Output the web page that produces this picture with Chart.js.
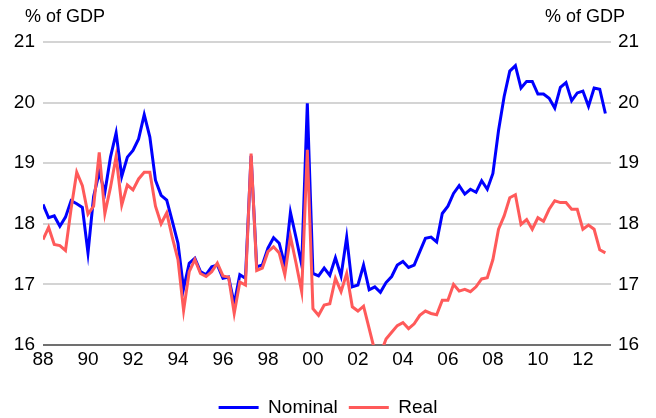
<!DOCTYPE html>
<html lang="en">
<head>
    <meta charset="UTF-8">
    <title>Nominal and real, % of GDP</title>
    <style>
        body { margin: 0; background: #fff; }
        #wrap { position: relative; width: 656px; height: 418px; }
        .unit { position: absolute; top: 6px; font: 18px "Liberation Sans", Arial, sans-serif; line-height: 20px; color: #000; }
        #unitLeft { left: 25px; }
        #unitRight { left: 545px; }
    </style>
</head>
<body>
<div id="wrap">
    <canvas id="chart" width="656" height="418"></canvas>
    <div class="unit" id="unitLeft">% of GDP</div>
    <div class="unit" id="unitRight">% of GDP</div>
</div>

<script src="https://cdn.jsdelivr.net/npm/chart.js@4/dist/chart.umd.min.js"></script>
<script>
    // quarterly, 1988Q1 .. 2013Q1
    var firstYear = 1988;
    var nQuarters = 101;

    var nominal = [
        18.32, 18.10, 18.13, 17.96, 18.11, 18.38, 18.33, 18.27, 17.52, 18.45,
        18.85, 18.52, 19.10, 19.50, 18.78, 19.10, 19.21, 19.40, 19.80, 19.43,
        18.72, 18.47, 18.39, 18.04, 17.68, 16.93, 17.35, 17.43, 17.21, 17.16,
        17.29, 17.32, 17.10, 17.12, 16.68, 17.16, 17.10, 19.12, 17.29, 17.32,
        17.60, 17.77, 17.68, 17.32, 18.19, 17.77, 17.32, 19.99, 17.18, 17.14,
        17.27, 17.15, 17.44, 17.14, 17.78, 16.96, 16.99, 17.32, 16.91, 16.96,
        16.87, 17.03, 17.13, 17.32, 17.38, 17.28, 17.32, 17.54, 17.76, 17.78,
        17.70, 18.17, 18.29, 18.50, 18.63, 18.49, 18.57, 18.52, 18.71, 18.57,
        18.83, 19.54, 20.10, 20.52, 20.61, 20.24, 20.35, 20.35, 20.14, 20.14,
        20.07, 19.91, 20.25, 20.33, 20.03, 20.16, 20.19, 19.94, 20.24, 20.22,
        19.82
    ];

    var real = [
        17.74, 17.94, 17.66, 17.64, 17.56, 18.25, 18.85, 18.63, 18.16, 18.29,
        19.18, 18.17, 18.60, 19.11, 18.31, 18.64, 18.56, 18.74, 18.85, 18.85,
        18.29, 18.00, 18.18, 17.77, 17.41, 16.57, 17.21, 17.41, 17.18, 17.13,
        17.21, 17.35, 17.14, 17.12, 16.52, 17.04, 16.99, 19.16, 17.23, 17.27,
        17.54, 17.62, 17.52, 17.16, 17.79, 17.35, 16.88, 19.22, 16.60, 16.49,
        16.66, 16.68, 17.10, 16.88, 17.18, 16.63, 16.56, 16.64, 16.27, 15.90,
        15.85, 16.10, 16.21, 16.32, 16.37, 16.27, 16.35, 16.49, 16.56, 16.52,
        16.50, 16.74, 16.74, 17.00, 16.89, 16.92, 16.88, 16.96, 17.09, 17.11,
        17.41, 17.91, 18.13, 18.43, 18.48, 17.99, 18.07, 17.91, 18.10, 18.04,
        18.24, 18.38, 18.35, 18.35, 18.24, 18.24, 17.91, 17.98, 17.91, 17.57,
        17.52
    ];

    var seriesNames = ['Nominal', 'Real'];
    var yTicks = [16, 17, 18, 19, 20, 21];

    // x position of each quarter, in years
    var quarters = [];
    for (var i = 0; i < nQuarters; i++) {
        quarters.push(firstYear + i / 4);
    }

    function toPoints(values) {
        return values.map(function (v, i) { return { x: quarters[i], y: v }; });
    }

    var tickFont = { family: '"Liberation Sans", Arial, sans-serif', size: 19 };

    var ctx = document.getElementById('chart').getContext('2d');
    var chart = new Chart(ctx, {
        type: 'line',
        data: {
            datasets: [{
                label: seriesNames[0],
                data: toPoints(nominal),
                borderColor: '#0000ff',
                backgroundColor: '#0000ff',
                borderWidth: 3,
                pointRadius: 0,
                tension: 0,
                order: 1
            }, {
                // real is drawn over nominal
                label: seriesNames[1],
                data: toPoints(real),
                borderColor: '#ff5a5a',
                backgroundColor: '#ff5a5a',
                borderWidth: 3,
                pointRadius: 0,
                tension: 0,
                order: 0
            }]
        },
        options: {
            responsive: false,
            animation: false,
            devicePixelRatio: 1,
            layout: { padding: { top: 42, left: 0, right: 0, bottom: -9 } },
            plugins: {
                legend: {
                    position: 'bottom',
                    labels: {
                        usePointStyle: true,
                        pointStyle: 'line',
                        pointStyleWidth: 40,
                        boxHeight: 19,
                        padding: 11,
                        color: '#000',
                        font: tickFont,
                        sort: function (a, b) { return a.datasetIndex - b.datasetIndex; }
                    }
                },
                tooltip: { enabled: false }
            },
            scales: {
                x: {
                    type: 'linear',
                    min: 1988,
                    max: 2013.25,
                    grid: { display: false, drawTicks: false },
                    border: { display: false },
                    ticks: {
                        stepSize: 2,
                        includeBounds: false,
                        autoSkip: false,
                        maxRotation: 0,
                        padding: 3,
                        color: '#000',
                        font: tickFont,
                        callback: function (v) { return String(v % 100).padStart(2, '0'); }
                    },
                    afterFit: function (scale) { scale.height = 42; }
                },
                y: {
                    position: 'left',
                    min: 16,
                    max: 21,
                    afterBuildTicks: function (scale) { scale.ticks = yTicks.map(function (v) { return { value: v }; }); },
                    grid: {
                        drawTicks: false,
                        lineWidth: 2,
                        color: function (c) { return c.tick && c.tick.value === 16 ? '#707070' : '#d4d4d4'; }
                    },
                    border: { display: false },
                    ticks: { padding: 8, color: '#000', font: tickFont },
                    afterFit: function (scale) { scale.width = 43; }
                },
                y2: {
                    position: 'right',
                    min: 16,
                    max: 21,
                    afterBuildTicks: function (scale) { scale.ticks = yTicks.map(function (v) { return { value: v }; }); },
                    grid: { display: false, drawTicks: false },
                    border: { display: false },
                    ticks: { padding: 7, color: '#000', font: tickFont },
                    afterFit: function (scale) { scale.width = 45; }
                }
            }
        }
    });
</script>
</body>
</html>
